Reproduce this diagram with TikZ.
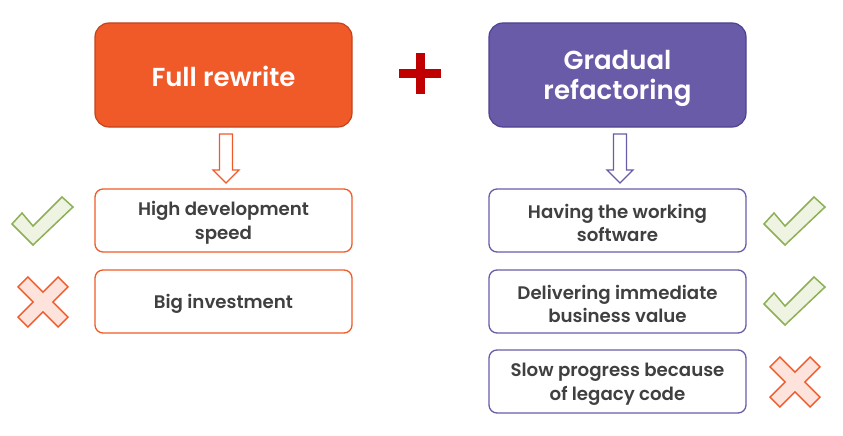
\documentclass[tikz,border=0pt]{standalone}
\usepackage{fontspec}
\setmainfont{Poppins}[BoldFont={Poppins SemiBold}]
\definecolor{orng}{HTML}{F05A28}
\definecolor{orngd}{HTML}{C1441E}
\definecolor{purp}{HTML}{6A5BA8}
\definecolor{purpd}{HTML}{4F4290}
\definecolor{txt}{HTML}{404040}
\definecolor{plusred}{HTML}{C00000}
\definecolor{chkfill}{HTML}{EEF3E2}
\definecolor{chkline}{HTML}{8DB056}
\definecolor{crsfill}{HTML}{FDE3DC}
\tikzset{
  bigbox/.style={rounded corners=14pt, minimum width=257pt, minimum height=104pt, line width=1.2pt, inner sep=0pt},
  bigtext/.style={text=white, font=\bfseries\fontsize{26}{30}\selectfont, align=center, inner sep=0pt},
  smallbox/.style={rounded corners=8pt, minimum width=257pt, minimum height=63pt, line width=1.3pt, fill=white, inner sep=0pt},
  smalltext/.style={text=txt, font=\bfseries\fontsize{18.2}{23.5}\selectfont, align=center, inner sep=0pt},
  downarrow/.style={line width=1.3pt, fill=white, line join=miter},
  chk/.style={fill=chkfill, draw=chkline, line width=1.5pt, line join=miter},
  crs/.style={fill=crsfill, draw=orng, line width=1.5pt, line join=miter},
}
\newcommand{\checkmk}[2]{\draw[chk] (#1+10,#2+16) -- (#1+21,#2+29) -- (#1+50,#2) -- (#1+61,#2+10) -- (#1+21,#2+48) -- (#1+0,#2+27) -- cycle;}
\newcommand{\crossmk}[2]{\draw[crs] (#1+0,#2+9.9) -- (#1+15.1,#2+25) -- (#1+25,#2+15.1) -- (#1+9.9,#2+0) -- (#1+25,#2-15.1) -- (#1+15.1,#2-25) -- (#1+0,#2-9.9) -- (#1-15.1,#2-25) -- (#1-25,#2-15.1) -- (#1-9.9,#2+0) -- (#1-25,#2+15.1) -- (#1-15.1,#2+25) -- cycle;}
\newcommand{\downarr}[3]{\draw[downarrow,draw=#3] (#1-6.5,134) -- (#1+6.5,134) -- (#1+6.5,170) -- (#1+13,170) -- (#1,183) -- (#1-13,170) -- (#1-6.5,170) -- cycle;}
\begin{document}
\begin{tikzpicture}[x=1pt,y=-1pt]
\useasboundingbox (0,0) rectangle (843,436);
\node[bigbox, fill=orng, draw=orngd] (full) at (223.5,75) {};
\node[bigtext] (fullt) at ([yshift=-1pt]full.center) {Full rewrite};
\node[bigbox, fill=purp, draw=purpd] (grad) at (617.5,75) {};
\node[bigtext] (gradt) at ([yshift=-3.5pt]grad.center) {Gradual\\refactoring};
% plus
\fill[plusred] (399,69) rectangle (441,78);
\fill[plusred] (415.5,53) rectangle (424.5,94);
\downarr{226}{0}{orng}
\downarr{620}{0}{purp}
\node[smallbox, draw=orng] (l1) at (223.5,220.5) {};
\node[smalltext] (l1t) at ([yshift=-2.5pt]l1.center) {High development\\speed};
\node[smallbox, draw=orng] (l2) at (223.5,301.5) {};
\node[smalltext] (l2t) at ([yshift=-2pt]l2.center) {Big investment};
\node[smallbox, draw=purp] (r1) at (617.5,220.5) {};
\node[smalltext] (r1t) at ([yshift=-2.5pt]r1.center) {Having the working\\software};
\node[smallbox, draw=purp] (r2) at (617.5,301.5) {};
\node[smalltext] (r2t) at ([yshift=-2.5pt]r2.center) {Delivering immediate\\business value};
\node[smallbox, draw=purp] (r3) at (617.5,381.5) {};
\node[smalltext] (r3t) at ([yshift=-2.5pt]r3.center) {Slow progress because\\of legacy code};
\checkmk{12}{197}
\crossmk{43}{302}
\checkmk{764}{197}
\checkmk{764}{277}
\crossmk{795}{382}
\end{tikzpicture}
\end{document}
